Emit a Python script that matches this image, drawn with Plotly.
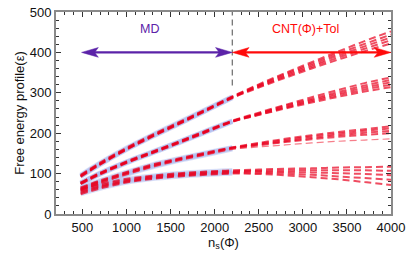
import plotly.graph_objects as go

# ---------------- data ----------------
n_grid = [480, 700, 1000, 1300, 1600, 1900, 2200, 2500, 2800, 3100, 3400, 3700, 4000]

family_A = [
    [97, 127, 164, 197, 228, 259, 291, 321, 349, 376, 402, 428, 452],
    [95, 125, 162, 195, 226, 258, 290, 319, 346, 372, 397, 421, 444],
    [94, 124, 161, 194, 225, 257, 289, 317, 343, 368, 392, 415, 437],
    [93, 123, 160, 193, 224, 256, 288, 315, 340, 364, 387, 409, 430],
    [92, 122, 159, 192, 223, 255, 287, 313, 337, 360, 382, 403, 422],
]
family_B = [
    [78, 102, 130, 155, 180, 206, 231, 251, 270, 289, 307, 324, 338],
    [77, 101, 129, 154, 179, 205, 230, 249, 268, 285, 302, 318, 332],
    [76, 100, 128, 153, 178, 204, 229, 248, 265, 282, 298, 313, 326],
    [75, 99, 127, 152, 177, 203, 229, 246, 263, 279, 294, 308, 320],
    [74, 98, 126, 151, 176, 202, 228, 245, 261, 276, 290, 303, 314],
]
family_C = [
    [66, 83, 104, 123, 138, 152, 165, 176, 186, 195, 203, 210, 217],
    [64, 81, 102, 121, 136, 150, 164, 174, 183, 192, 199, 206, 212],
    [62, 79, 100, 119, 135, 149, 163, 172, 180, 188, 195, 201, 206],
    [60, 77, 99, 118, 134, 148, 162, 170, 178, 185, 191, 196, 200],
    [58, 76, 97, 116, 132, 146, 160, 166, 171, 176, 180, 183, 186],
]
family_D = [
    [61, 74, 87, 95, 101, 105, 108, 110, 112, 113, 115, 116, 117],
    [58, 71, 84, 93, 99, 103, 106, 107, 108, 108, 108, 108, 107],
    [55, 68, 82, 91, 97, 101, 104, 105, 104, 103, 101, 99, 96],
    [52, 66, 80, 89, 95, 99, 102, 102, 100, 97, 93, 89, 85],
    [49, 63, 78, 87, 93, 97, 100, 99, 96, 91, 86, 79, 72],
]

MD_START = 490
MD_END = 2200
N_MAX = 4000
ARROW_Y = 400
VLINE_Y0 = 318
Y_MAX = 500
label_MD = "MD"
label_CNT = "CNT(Φ)+Tol"
label_pos_MD = (1257, 457)
label_pos_CNT = (3034, 457)

x_ticks = [500, 1000, 1500, 2000, 2500, 3000, 3500, 4000]
y_ticks = [0, 100, 200, 300, 400, 500]

# ---------------- styles ----------------
FONT = "Liberation Sans, Arial, Helvetica, sans-serif"
PURPLE = "#5b22a8"
RED = "#ff0a0a"
BAND = "rgba(175,188,240,0.45)"
DASH_RED = "rgba(232,0,30,0.7)"

fig = go.Figure()

families = [family_A, family_B, family_C, family_D]
# lavender MD bands
for fam in families:
    for curve in fam:
        xs = [x for x in n_grid if x <= MD_END]
        ys = curve[:len(xs)]
        fig.add_trace(go.Scatter(x=xs, y=ys, mode="lines", line=dict(color=BAND, width=4.5, shape="spline"),
                                 hoverinfo="skip", showlegend=False))
# red dashed CNT curves
for fam in families:
    for i, curve in enumerate(fam):
        thin = (fam is family_C and i == len(fam) - 1)
        fig.add_trace(go.Scatter(x=n_grid, y=curve, mode="lines",
                                 line=dict(color="rgba(240,40,60,0.6)" if thin else DASH_RED,
                                           width=1.2 if thin else 2.0, dash="7px,4px", shape="spline"),
                                 hoverinfo="skip", showlegend=False))

# vertical dashed separator
fig.add_shape(type="line", x0=MD_END, x1=MD_END, y0=VLINE_Y0, y1=Y_MAX, xref="x", yref="y",
              line=dict(color="#777777", width=1.3, dash="6px,4px"))

# arrows (shaft + barbed heads)
HEAD_LEN = 190
HEAD_H = 12


def head(tip_x, y, direction):
    L = HEAD_LEN * direction
    return (f"M {tip_x},{y} L {tip_x + L},{y + HEAD_H} L {tip_x + 0.78 * L},{y} "
            f"L {tip_x + L},{y - HEAD_H} Z")


for (a, b, col) in [(MD_START, MD_END, PURPLE), (MD_END, N_MAX, RED)]:
    fig.add_shape(type="line", x0=a + HEAD_LEN * 0.7, x1=b - HEAD_LEN * 0.7, y0=ARROW_Y, y1=ARROW_Y,
                  xref="x", yref="y", line=dict(color=col, width=2.2))
    fig.add_shape(type="path", path=head(a, ARROW_Y, 1), xref="x", yref="y",
                  fillcolor=col, line=dict(color=col, width=0.5))
    fig.add_shape(type="path", path=head(b, ARROW_Y, -1), xref="x", yref="y",
                  fillcolor=col, line=dict(color=col, width=0.5))

fig.add_annotation(x=label_pos_MD[0], y=label_pos_MD[1], text=label_MD, showarrow=False,
                   font=dict(family=FONT, size=12.5, color=PURPLE))
fig.add_annotation(x=label_pos_CNT[0], y=label_pos_CNT[1], text=label_CNT, showarrow=False,
                   font=dict(family=FONT, size=12.5, color=RED))

axis_common = dict(showline=True, linecolor="#8a8a8a", linewidth=2, mirror="allticks",
                   ticks="inside", tickcolor="#333333", tickwidth=1, ticklen=5,
                   showgrid=False, zeroline=False, automargin=False,
                   tickfont=dict(family=FONT, size=13, color="#111111"))

fig.update_xaxes(range=[200, 4000], tickvals=x_ticks,
                 minor=dict(dtick=100, ticks="inside", ticklen=3, tickcolor="#333333", showgrid=False),
                 title=dict(text="n<sub>s</sub>(Φ)", font=dict(family=FONT, size=13, color="#111111"),
                            standoff=2),
                 **axis_common)
fig.update_yaxes(range=[0, 500], tickvals=y_ticks,
                 minor=dict(dtick=20, ticks="inside", ticklen=3, tickcolor="#333333", showgrid=False),
                 title=dict(text="Free energy profile(ε)", font=dict(family=FONT, size=13, color="#111111"),
                            standoff=2),
                 **axis_common)

fig.update_layout(width=415, height=264, margin=dict(l=56, r=24, t=12, b=50, autoexpand=False),
                  plot_bgcolor="white", paper_bgcolor="white", showlegend=False,
                  font=dict(family=FONT))

# remove the page's default body margin so the figure sits at the window origin
fig.write_html("out.html", config={"displayModeBar": False},
               post_script="document.body.style.margin='0';")
